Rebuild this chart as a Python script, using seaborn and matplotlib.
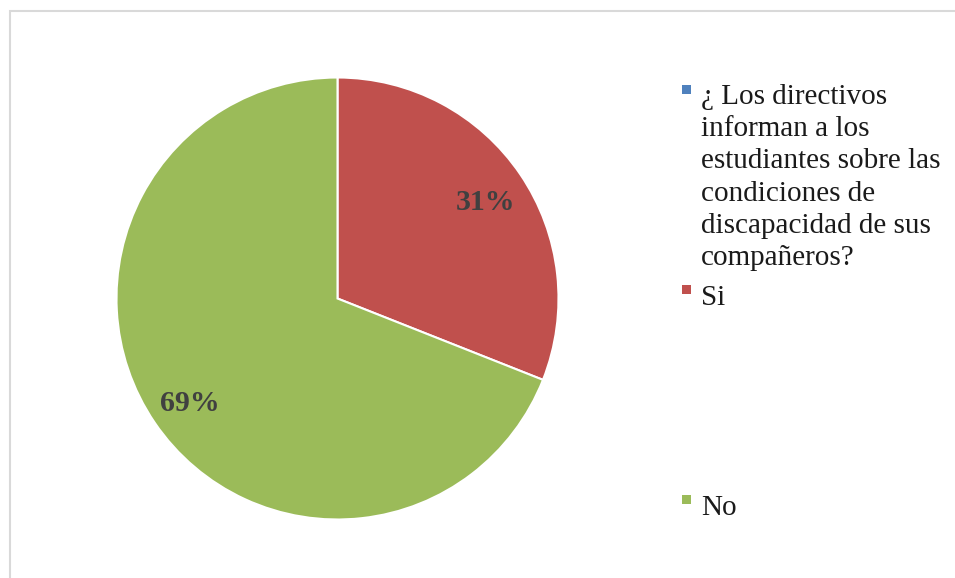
import matplotlib
matplotlib.use("Agg")
import matplotlib.pyplot as plt
import matplotlib.patches as mpatches
import seaborn as sns

# -----------------------------
# Datos
# -----------------------------
categorias = [
    "¿ Los directivos\ninforman a los\nestudiantes sobre las\ncondiciones de\ndiscapacidad de sus\ncompañeros?",
    "Si",
    "No",
]
porcentajes = [0, 31, 69]
colores = ["#4F81BD", "#C0504D", "#9BBB59"]

sns.set_theme(style="white")
plt.rcParams["font.family"] = ["Liberation Serif", "DejaVu Serif"]

W, H = 955, 578
fig = plt.figure(figsize=(W / 100, H / 100), dpi=100)

# borde del área del gráfico (solo arriba e izquierda son visibles)
fig.add_artist(mpatches.Rectangle((10 / W, -1), 2, 2 - 11 / H, transform=fig.transFigure,
                                  fill=False, edgecolor="#D9D9D9", linewidth=1.5))

# pie: centro (338, 298) px, radio 221 px
cx, cy, r = 337.5, 298.5, 221
ax = fig.add_axes([(cx - r) / W, (H - cy - r) / H, 2 * r / W, 2 * r / H])


def _pct(p):
    return "" if p < 0.5 else f"{p:.0f}%"


wedges, _, autotexts = ax.pie(
    porcentajes, colors=colores, startangle=90, counterclock=False,
    autopct=_pct, pctdistance=0.81, radius=1,
    wedgeprops={"edgecolor": "white", "linewidth": 1.5},
)
for t in autotexts:
    t.set_fontsize(21.5)
    t.set_fontweight("bold")
    t.set_color("#404040")
    x, y = t.get_position()
    t.set_position((x, y - 0.02))
ax.set_xlim(-1, 1)
ax.set_ylim(-1, 1)
ax.set_aspect("equal")
ax.axis("off")

# leyenda manual (Excel deja un hueco grande antes de "No")
# primera línea de cada entrada y última línea (para va="baseline")
primera = [105, 305, 515]
ultima = [265, 305, 515]
for lab, col, y0, y1 in zip(categorias, colores, primera, ultima):
    fig.text(701 / W, 1 - y1 / H, lab, ha="left", va="baseline",
             fontsize=21, color="#1a1a1a", linespacing=1.31)
    fig.add_artist(mpatches.Rectangle((682 / W, 1 - (y0 - 11) / H), 9 / W, 9 / H,
                                      transform=fig.transFigure, color=col, linewidth=0))

fig.savefig("out.png", dpi=100)
